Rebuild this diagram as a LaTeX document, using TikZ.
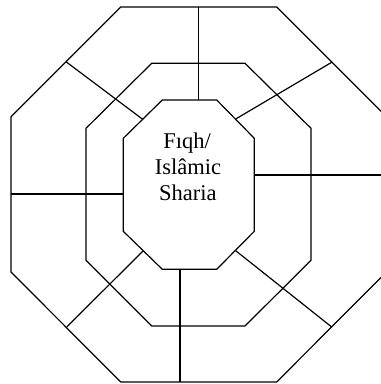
\documentclass[tikz,border=0pt]{standalone}
\usepackage{fontspec}
\setmainfont{Liberation Serif}
\tikzset{
  ring/.style={draw=black, line width=1.2pt, line join=miter},
  spoke/.style={draw=black, line width=1.2pt},
  lbl/.style={font=\fontsize{22.5}{26}\selectfont, anchor=base, inner sep=0pt}
}
\begin{document}
\begin{tikzpicture}[x=1pt,y=-1pt]
\useasboundingbox (0,0) rectangle (381,384);
\clip (0,0) rectangle (381,384);
% outer octagon
\draw[ring] (120.7,7) -- (276.7,7) -- (386.4,116.7) -- (386.4,272) -- (276.7,382) -- (120.7,382) -- (11,272) -- (11,116.7) -- cycle;
% middle octagon
\draw[ring] (151.7,63.3) -- (245,63.3) -- (311,128.3) -- (311,260.3) -- (245,326) -- (151.7,326) -- (86,260.3) -- (86,128.3) -- cycle;
% inner octagon
\draw[ring] (162.3,100) -- (216.7,100) -- (254.3,138.3) -- (254.3,231.3) -- (216.7,269.3) -- (162.3,269.3) -- (123.3,231.3) -- (123.3,138.3) -- cycle;
% spokes
\coordinate (s1a) at (198.3,7);   \coordinate (s1b) at (198.3,100);
\coordinate (s2a) at (66,61.7);   \coordinate (s2b) at (142.7,119.3);
\coordinate (s3a) at (235.7,119); \coordinate (s3b) at (331.7,62.3);
\coordinate (s4a) at (254.3,175); \coordinate (s4b) at (386.4,175);
\coordinate (s5a) at (11,194);    \coordinate (s5b) at (123.3,194);
\coordinate (s6a) at (142.7,251.3); \coordinate (s6b) at (66.7,327);
\coordinate (s7a) at (180,269.3); \coordinate (s7b) at (180,382);
\coordinate (s8a) at (235.7,250.7); \coordinate (s8b) at (331.7,327);
\draw[spoke] (s1a) -- (s1b);
\draw[spoke] (s2a) -- (s2b);
\draw[spoke] (s3a) -- (s3b);
\draw[spoke] (s4a) -- (s4b);
\draw[spoke] (s5a) -- (s5b);
\draw[spoke] (s6a) -- (s6b);
\draw[spoke] (s7a) -- (s7b);
\draw[spoke] (s8a) -- (s8b);
% label
\node[lbl] (t1) at (187.2,148.5) {Fıqh/};
\node[lbl] (t2) at (188,174.5) {Islâmic};
\node[lbl] (t3) at (187.8,200.5) {Sharia};
\end{tikzpicture}
\end{document}
